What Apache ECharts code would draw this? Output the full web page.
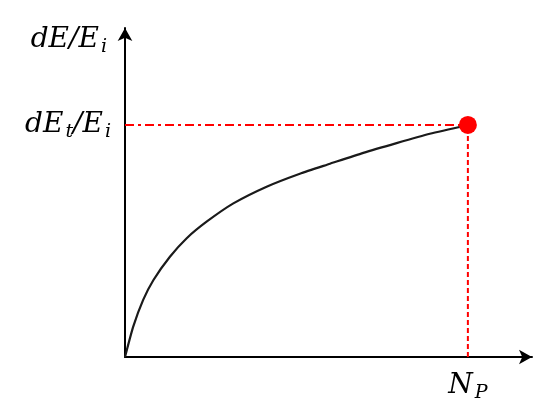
<!DOCTYPE html>
<html>
<head>
<meta charset="utf-8">
<script src="https://cdn.jsdelivr.net/npm/echarts@6/dist/echarts.min.js"></script>
<style>
  html, body { margin: 0; padding: 0; background: #fff; }
  #chart { width: 550px; height: 413px; }
</style>
</head>
<body>
<div id="chart"></div>
<script>
// 曲线数据 (x: 循环数, y: dE/Ei)，终点 N_P = 10, dEt/Ei = 1
const curveX = [0, 0.24, 0.53, 0.83, 1.31, 1.80, 2.38, 3.16, 4.13, 5.10, 5.98, 6.95, 7.92, 8.89, 10];
const curveY = [0, 0.131, 0.246, 0.332, 0.432, 0.512, 0.583, 0.662, 0.734, 0.790, 0.833, 0.880, 0.922, 0.962, 1.0];
const endPoint = [10, 1];
const xMax = 11.87;
const yMax = 1.418;

const chart = echarts.init(document.getElementById('chart'));

const mathFont = 'DejaVu Serif';
const rich = {
  m: { fontFamily: mathFont, fontStyle: 'italic', fontSize: 28, color: '#000', lineHeight: 34, verticalAlign: 'middle' },
  s: { fontFamily: mathFont, fontStyle: 'italic', fontSize: 19, color: '#000', lineHeight: 34, verticalAlign: 'bottom', padding: [0, 0, 0, 2] }
};

const option = {
  animation: false,
  grid: { left: 125, right: 18, top: 28, bottom: 56, containLabel: false },
  xAxis: {
    type: 'value',
    min: 0,
    max: xMax,
    splitLine: { show: false },
    axisTick: { show: false },
    axisLine: {
      onZero: false,
      symbol: ['none', 'arrow'],
      symbolSize: [11, 13],
      lineStyle: { color: '#000', width: 2 }
    },
    axisLabel: {
      customValues: [endPoint[0]],
      margin: 12,
      formatter: () => '{m|N}{s|P}',
      rich: rich
    }
  },
  yAxis: {
    type: 'value',
    min: 0,
    max: yMax,
    splitLine: { show: false },
    axisTick: { show: false },
    name: '{m|dE/E}{s|i}',
    nameLocation: 'end',
    nameGap: -12,
    nameTextStyle: { align: 'right', verticalAlign: 'middle', padding: [0, 18, 0, 0], rich: rich },
    axisLine: {
      onZero: false,
      symbol: ['none', 'arrow'],
      symbolSize: [11, 13],
      lineStyle: { color: '#000', width: 2 }
    },
    axisLabel: {
      customValues: [endPoint[1]],
      margin: 14,
      formatter: () => '{m|dE}{s|t}{m|/E}{s|i}',
      rich: rich
    }
  },
  series: [
    {
      // 红色点划线 (水平)
      type: 'line',
      data: [[0, endPoint[1]], endPoint],
      symbol: 'none',
      lineStyle: { color: '#ff0000', width: 2, type: [9, 4, 3, 4] },
      z: 1
    },
    {
      // 红色虚线 (垂直)
      type: 'line',
      data: [[endPoint[0], 0], endPoint],
      symbol: 'none',
      lineStyle: { color: '#ff0000', width: 2, type: [5, 3] },
      z: 1
    },
    {
      type: 'line',
      data: curveX.map((x, i) => [x, curveY[i]]),
      smooth: 0.2,
      symbol: 'none',
      lineStyle: { color: '#1a1a1a', width: 2.2 },
      z: 2
    },
    {
      type: 'scatter',
      data: [endPoint],
      symbolSize: 18,
      itemStyle: { color: '#ff0000', opacity: 1 },
      z: 3
    }
  ]
};

chart.setOption(option);
</script>
</body>
</html>
